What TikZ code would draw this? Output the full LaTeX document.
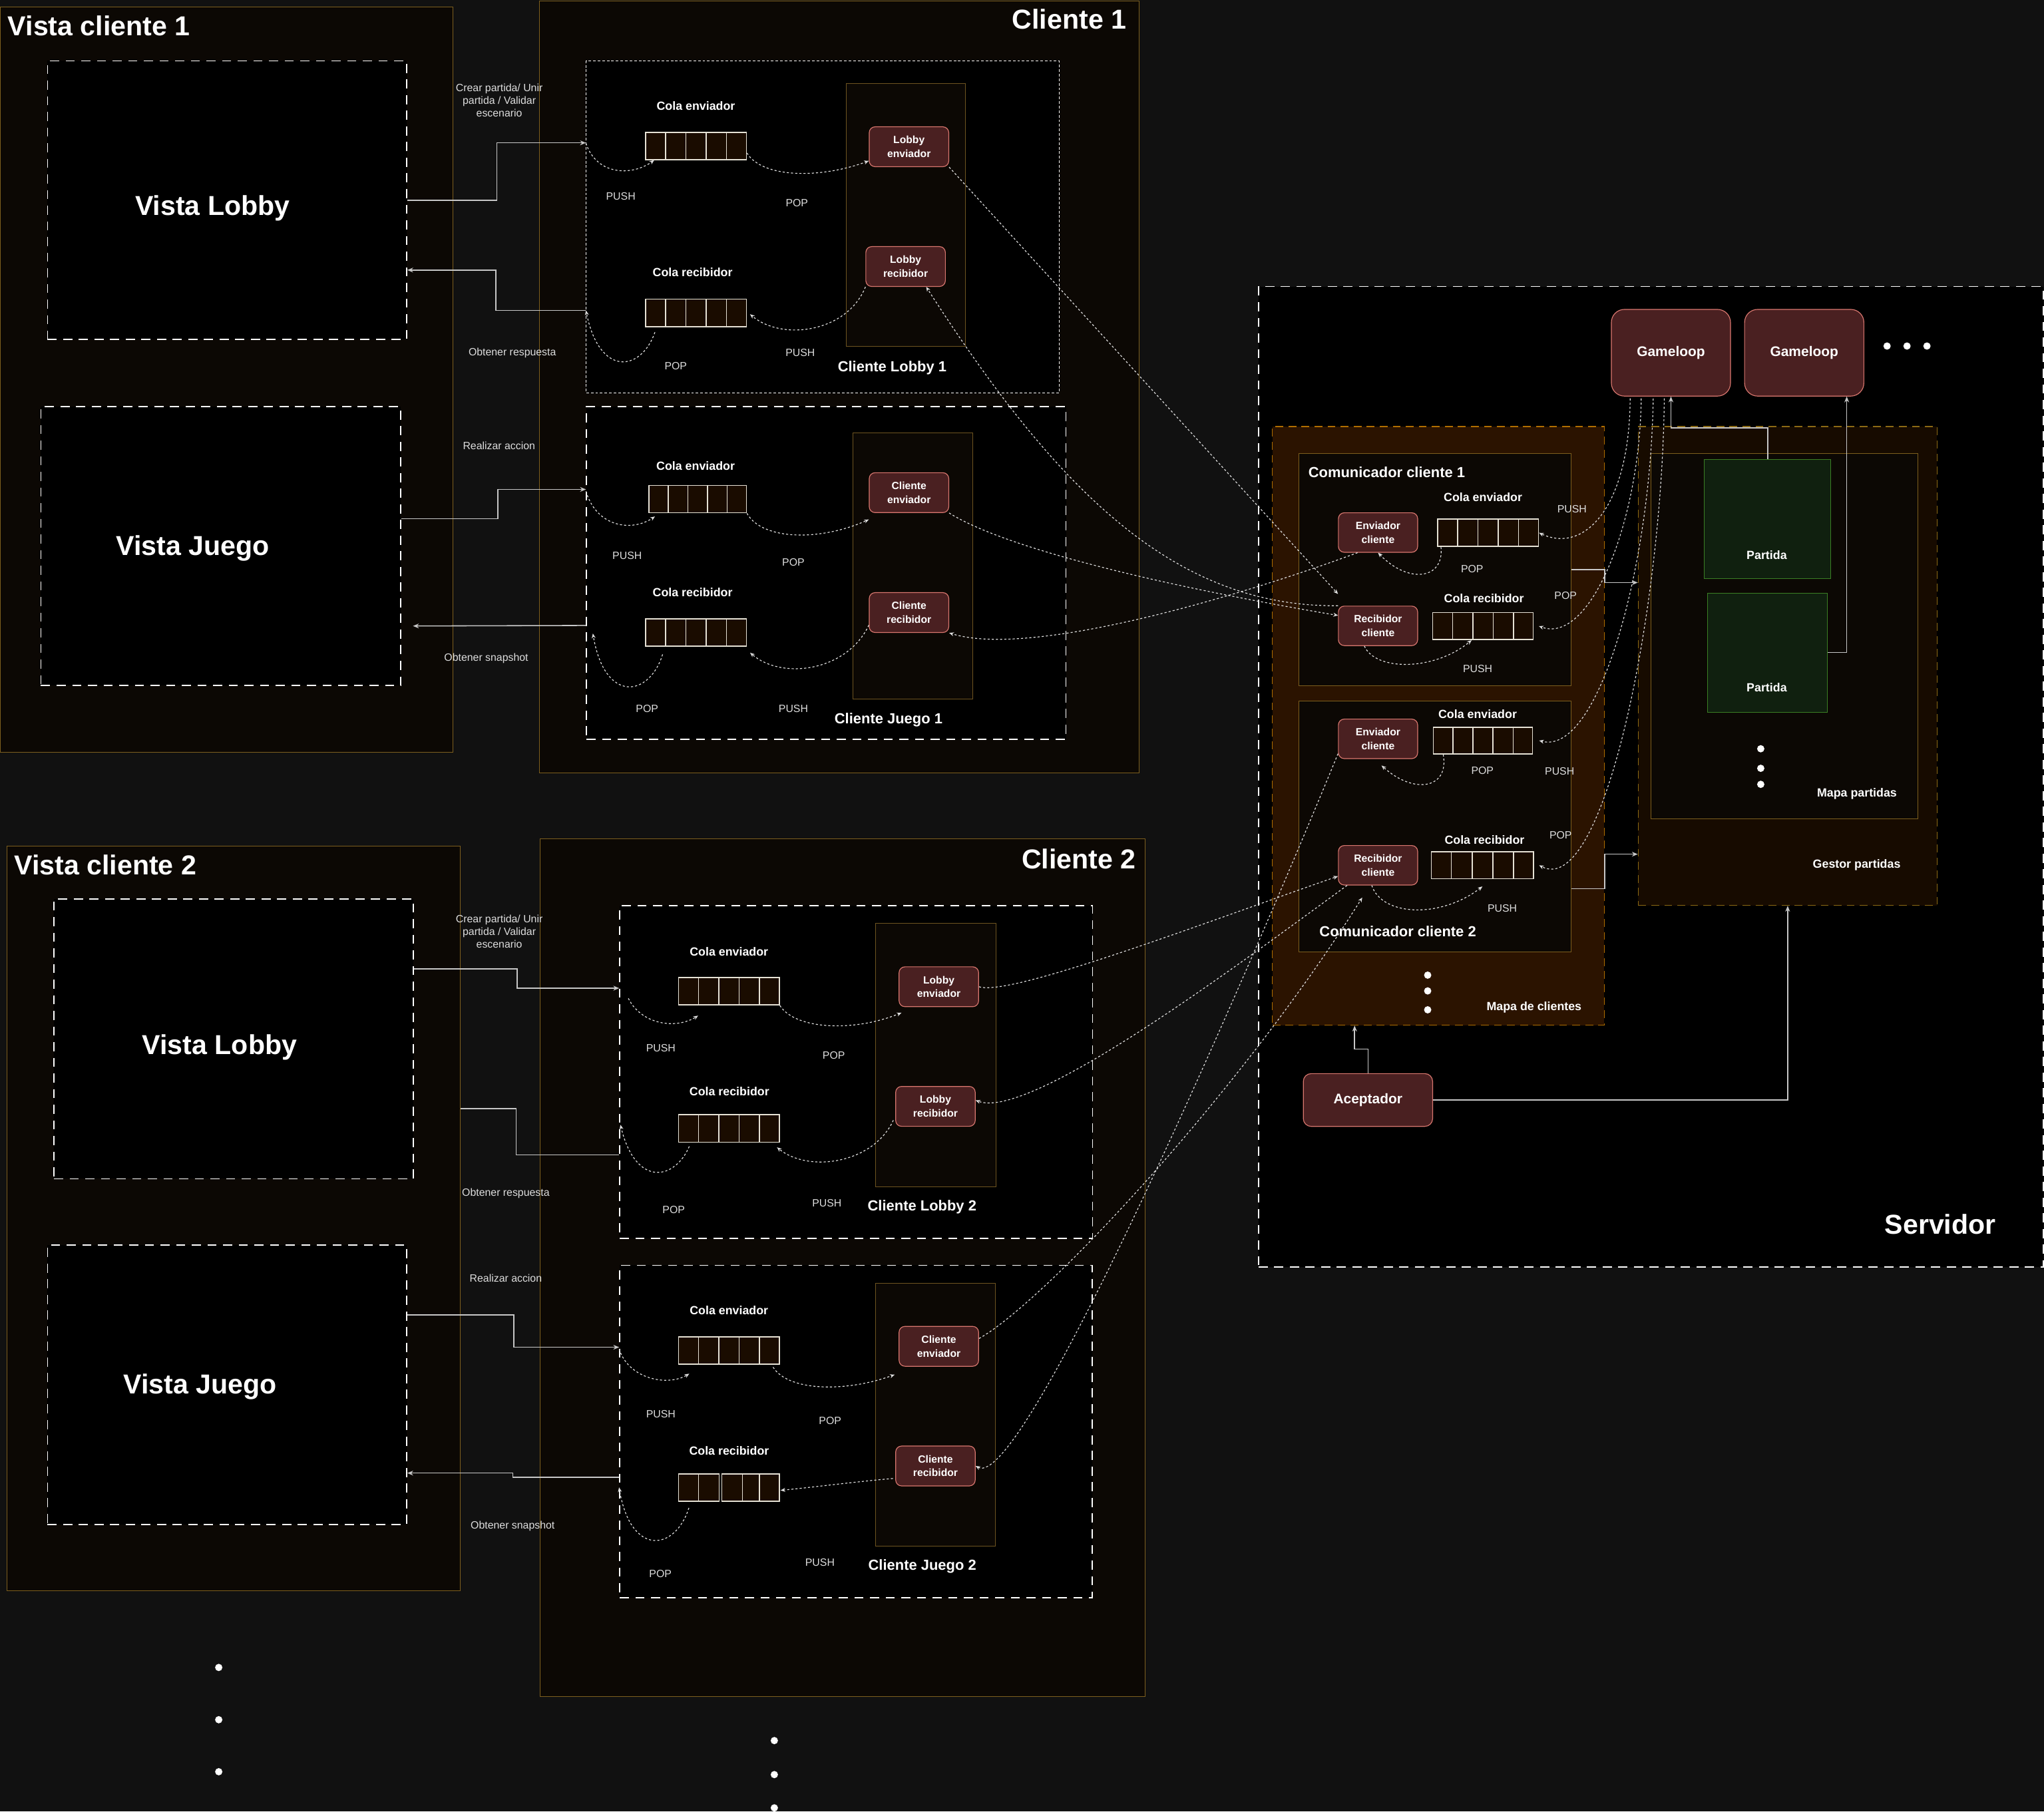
\documentclass[tikz,border=0pt]{standalone}
\usepackage{fontspec}
\setmainfont{Liberation Sans}
\usetikzlibrary{arrows.meta,calc}

\definecolor{fondo}{HTML}{111111}
\definecolor{marcoborde}{HTML}{7D5F1E}
\definecolor{marcofondo}{HTML}{0C0804}
\definecolor{columnaborde}{HTML}{6E5420}
\definecolor{hiloborde}{HTML}{D9776F}
\definecolor{hilofondo}{HTML}{4A2021}
\definecolor{celdafondo}{HTML}{1A0C00}
\definecolor{celdaborde}{HTML}{E6E2D6}
\definecolor{mapafondo}{HTML}{2B1300}
\definecolor{mapaborde}{HTML}{B06E00}
\definecolor{gestorfondo}{HTML}{170B00}
\definecolor{gestorborde}{HTML}{8C6A14}
\definecolor{partidafondo}{HTML}{10200F}
\definecolor{partidaborde}{HTML}{3B7F24}
\definecolor{linea}{HTML}{C8C8C8}
\definecolor{flujocolor}{HTML}{E0E0E0}
\definecolor{texto}{HTML}{DDDDDD}

\begin{document}
\begin{tikzpicture}[x=1pt, y=-1pt,
    tam/.style 2 args={minimum width=#1pt, minimum height=#2pt},
    marco/.style={draw=marcoborde, fill=marcofondo, line width=0.5pt, inner sep=0pt, anchor=north west},
    vista/.style={draw=white, fill=black, line width=0.8pt, dash pattern=on 7pt off 5pt, inner sep=0pt, anchor=north west},
    fino/.style={draw=white, fill=black, line width=0.5pt, dash pattern=on 2pt off 1.5pt, inner sep=0pt, anchor=north west},
    columna/.style={draw=columnaborde, fill=marcofondo, line width=0.5pt, inner sep=0pt, anchor=north west},
    mapa/.style={draw=mapaborde, fill=mapafondo, line width=0.6pt, dash pattern=on 6pt off 4pt, inner sep=0pt, anchor=north west},
    gestorcaja/.style={draw=gestorborde, fill=gestorfondo, line width=0.6pt, dash pattern=on 6pt off 4pt, inner sep=0pt, anchor=north west},
    partida/.style={draw=partidaborde, fill=partidafondo, line width=0.5pt, inner sep=0pt, anchor=north west},
    hilo/.style={draw=hiloborde, fill=hilofondo, line width=0.6pt, rounded corners=4.5pt, text=white, align=center, inner sep=0pt, minimum width=61pt, minimum height=30.6pt, font=\bfseries\fontsize{8}{10.5}\selectfont},
    bucle/.style={hilo, rounded corners=10pt, font=\bfseries\fontsize{10.7}{13}\selectfont},
    cola/.style={draw=celdaborde, fill=celdafondo, line width=0.8pt, inner sep=0pt, minimum height=21pt},
    celda/.style={draw=celdaborde, line width=0.8pt},
    titulo/.style={text=white, inner sep=0pt, font=\bfseries\fontsize{21}{25}\selectfont},
    subtitulo/.style={text=white, inner sep=0pt, font=\bfseries\fontsize{11.2}{13}\selectfont},
    rotulo/.style={text=white, inner sep=0pt, font=\bfseries\fontsize{9.1}{11}\selectfont},
    nota/.style={text=texto, inner sep=0pt, align=center, font=\fontsize{8.1}{9.7}\selectfont},
    punto/.style={circle, fill=white, inner sep=0pt, minimum size=5.6pt},
    conector/.style={draw=linea, line width=0.8pt, -{Stealth[length=4.5pt, width=3.6pt]}},
    flujo/.style={draw=flujocolor, line width=0.6pt, dash pattern=on 1.6pt off 1.6pt, -{Stealth[length=3.6pt, width=3pt]}},
  ]
  \fill[fondo] (0,0) rectangle (1568,1390);
  \useasboundingbox (0,0) rectangle (1568,1390);

  % vista cliente 1
  \node[marco, tam={347}{572}] (vistacli1) at (0,5) {};
  \node[vista, tam={275.6}{213.7}] (vistalobby1) at (36,46.3) {};
  \node[vista, tam={276}{214}] (vistajuego1) at (31,311.6) {};
  \node[titulo, anchor=base west] (tvistacli1) at (5.9,27.4) {Vista cliente 1};
  \node[titulo, anchor=base] (tvistalobby1) at (163,165.3) {Vista Lobby};
  \node[titulo, anchor=base] (tvistajuego1) at (148,426) {Vista Juego};

  % cliente 1
  \node[marco, tam={459.8}{592.1}] (cliente1) at (413.7,0.5) {};
  \node[fino, tam={362.6}{255}] (clilobby1) at (449.5,46.3) {};
  \node[columna, tam={91.7}{201.5}] (collobby1) at (648.8,64) {};
  \node[vista, tam={367.8}{255.2}] (clijuego1) at (449.5,311.6) {};
  \node[columna, tam={92}{204.3}] (coljuego1) at (653.8,332) {};
  \node[titulo, anchor=base east] (tcliente1) at (864.2,22.3) {Cliente 1};

  \node[hilo] (lobbyenv1) at (697.3,112.6) {Lobby\\enviador};
  \node[hilo] (lobbyrec1) at (694.7,204.5) {Lobby\\recibidor};
  \node[hilo] (clienv1) at (697.3,378) {Cliente\\enviador};
  \node[hilo] (clirec1) at (697.3,470) {Cliente\\recibidor};

  \node[cola, minimum width=77.4pt] (colaenvL1) at (533.9,112) {};
  \node[cola, minimum width=77.4pt] (colarecL1) at (533.9,240.1) {};
  \node[cola, minimum width=74.8pt] (colaenvJ1) at (535.2,383) {};
  \node[cola, minimum width=77.4pt] (colarecJ1) at (533.9,485.2) {};

  \node[rotulo] (tcolaenvL1) at (533.8,81.4) {Cola enviador};
  \node[rotulo] (tcolarecL1) at (531.3,209) {Cola recibidor};
  \node[nota] (pushL1a) at (476.2,150.6) {PUSH};
  \node[nota] (popL1a) at (611.3,155.9) {POP};
  \node[nota] (popL1b) at (518.4,280.6) {POP};
  \node[nota] (pushL1b) at (613.9,270.6) {PUSH};
  \node[subtitulo, anchor=base] (tclilobby1) at (684.4,284.9) {Cliente Lobby 1};
  \node[rotulo] (tcolaenvJ1) at (533.6,357.4) {Cola enviador};
  \node[rotulo] (tcolarecJ1) at (531.3,454.3) {Cola recibidor};
  \node[nota] (pushJ1a) at (481.1,426.1) {PUSH};
  \node[nota] (popJ1a) at (608.6,431.4) {POP};
  \node[nota] (popJ1b) at (496.4,543.8) {POP};
  \node[nota] (pushJ1b) at (608.6,543.8) {PUSH};
  \node[subtitulo, anchor=base] (tclijuego1) at (681.6,555) {Cliente Juego 1};

  \node[nota] (tcrear1) at (383,76.9) {Crear partida/ Unir\\partida / Validar\\escenario};
  \node[nota] (tresp1) at (393,270.8) {Obtener respuesta};
  \node[nota] (taccion1) at (382.8,341.9) {Realizar accion};
  \node[nota] (tsnap1) at (373,505) {Obtener snapshot};

  % vista cliente 2
  \node[marco, tam={347.3}{571.6}] (vistacli2) at (5.3,648.8) {};
  \node[vista, tam={275.8}{214.6}] (vistalobby2) at (41,689.4) {};
  \node[vista, tam={275.6}{214.5}] (vistajuego2) at (36,954.8) {};
  \node[titulo, anchor=base west] (tvistacli2) at (10.8,671.4) {Vista cliente 2};
  \node[titulo, anchor=base] (tvistalobby2) at (168.5,809) {Vista Lobby};
  \node[titulo, anchor=base] (tvistajuego2) at (153.4,1069.2) {Vista Juego};

  % cliente 2
  \node[marco, tam={464.4}{658}] (cliente2) at (414,643.5) {};
  \node[vista, tam={362.6}{255.3}] (clilobby2) at (475,694.6) {};
  \node[columna, tam={92.2}{202}] (collobby2) at (671.4,708.2) {};
  \node[vista, tam={362.5}{255}] (clijuego2) at (475,970.4) {};
  \node[columna, tam={92.1}{201.6}] (coljuego2) at (671.4,984.4) {};
  \node[titulo, anchor=base east] (tcliente2) at (871.6,666.3) {Cliente 2};

  \node[nota] (tcrear2) at (383,714.9) {Crear partida/ Unir\\partida / Validar\\escenario};
  \node[nota] (tresp2) at (388,915.7) {Obtener respuesta};
  \node[nota] (taccion2) at (388,980.6) {Realizar accion};
  \node[nota] (tsnap2) at (393.3,1170.8) {Obtener snapshot};

  \node[hilo] (lobbyenv2) at (720.2,757.1) {Lobby\\enviador};
  \node[hilo] (lobbyrec2) at (717.6,848.9) {Lobby\\recibidor};
  \node[hilo] (clienv2) at (720.2,1033) {Cliente\\enviador};
  \node[hilo] (clirec2) at (717.6,1124.8) {Cliente\\recibidor};

  \node[cola, minimum width=77.3pt] (colaenvL2) at (559.2,760.6) {};
  \node[cola, minimum width=77.3pt] (colarecL2) at (559.2,865.8) {};
  \node[cola, minimum width=77.3pt] (colaenvJ2) at (559.2,1036.2) {};
  \node[cola, minimum width=77.3pt] (colarecJ2) at (559.2,1141.3) {};

  \node[rotulo] (tcolaenvL2) at (559.2,730.1) {Cola enviador};
  \node[rotulo] (tcolarecL2) at (559.5,837.2) {Cola recibidor};
  \node[nota] (pushL2a) at (506.9,804.3) {PUSH};
  \node[nota] (popL2a) at (639.6,809.6) {POP};
  \node[nota] (popL2b) at (516.8,928.4) {POP};
  \node[nota] (pushL2b) at (634.3,923.2) {PUSH};
  \node[subtitulo, anchor=base] (tclilobby2) at (707.3,929.1) {Cliente Lobby 2};
  \node[rotulo] (tcolaenvJ2) at (559.2,1005.6) {Cola enviador};
  \node[rotulo] (tcolarecJ2) at (559.3,1113.1) {Cola recibidor};
  \node[nota] (pushJ2a) at (506.9,1085.1) {PUSH};
  \node[nota] (popJ2a) at (636.8,1090.3) {POP};
  \node[nota] (popJ2b) at (506.6,1207.6) {POP};
  \node[nota] (pushJ2b) at (629,1199) {PUSH};
  \node[subtitulo, anchor=base] (tclijuego2) at (707.5,1204.7) {Cliente Juego 2};

  % servidor
  \node[vista, tam={602}{752.1}] (servidor) at (965,219.5) {};
  \node[mapa, tam={254.5}{459.3}] (mapaclientes) at (975.8,327) {};
  \node[marco, tam={209}{178.5}] (comunicador1) at (996.1,347.5) {};
  \node[marco, tam={209}{192.9}] (comunicador2) at (996.1,537.4) {};
  \node[gestorcaja, tam={229.3}{367.4}] (gestorpartidas) at (1256.4,327) {};
  \node[marco, tam={204.5}{280.3}] (mapapartidas) at (1266.3,347.9) {};
  \node[partida, tam={96.8}{91.5}] (partida1) at (1307.3,352.4) {};
  \node[partida, tam={91.9}{91.5}] (partida2) at (1309.8,454.7) {};
  \node[bucle, tam={91.4}{66.5}] (gameloop1) at (1281.8,270.65) {Gameloop};
  \node[bucle, tam={91.5}{66.5}] (gameloop2) at (1384.05,270.65) {Gameloop};
  \node[bucle, rounded corners=6pt, tam={99.2}{40.5}] (aceptador) at (1049.4,844) {Aceptador};

  \node[hilo, tam={60.8}{30.3}] (envS1) at (1057.1,408.6) {Enviador\\cliente};
  \node[hilo, tam={60.8}{30.3}] (recS1) at (1057.1,480.2) {Recibidor\\cliente};
  \node[hilo, tam={60.8}{30.3}] (envS2) at (1057.1,566.9) {Enviador\\cliente};
  \node[hilo, tam={60.8}{30.3}] (recS2) at (1057.1,663.9) {Recibidor\\cliente};

  \node[cola, tam={77.4}{20.9}] (colaenvS1) at (1141.5,408.8) {};
  \node[cola, tam={77}{20.8}] (colarecS1) at (1137.6,480.4) {};
  \node[cola, tam={76.2}{20.5}] (colaenvS2) at (1137.6,568.2) {};
  \node[cola, tam={78.6}{20.5}] (colarecS2) at (1137.2,663.9) {};

  \node[subtitulo, anchor=base west] (tcom1) at (1003.5,366.1) {Comunicador cliente 1};
  \node[rotulo] (tcolaenvS1) at (1137.6,381.7) {Cola enviador};
  \node[nota] (pushS1a) at (1205.9,390.5) {PUSH};
  \node[nota] (popS1a) at (1129.3,436.5) {POP};
  \node[rotulo] (tcolarecS1) at (1138.4,459.2) {Cola recibidor};
  \node[nota] (popS1b) at (1201,457) {POP};
  \node[nota] (pushS1b) at (1133.5,513) {PUSH};
  \node[rotulo] (tcolaenvS2) at (1133.5,547.8) {Cola enviador};
  \node[nota] (popS2a) at (1137.2,591.1) {POP};
  \node[nota] (pushS2a) at (1196.4,591.8) {PUSH};
  \node[rotulo] (tcolarecS2) at (1138.8,644.5) {Cola recibidor};
  \node[nota] (popS2b) at (1197.2,640.6) {POP};
  \node[nota] (pushS2b) at (1152.4,696.9) {PUSH};
  \node[subtitulo, anchor=base west] (tcom2) at (1012,718.5) {Comunicador cliente 2};
  \node[rotulo] (tmapacli) at (1176.8,773) {Mapa de clientes};
  \node[rotulo] (tpartida1) at (1355.3,426) {Partida};
  \node[rotulo] (tpartida2) at (1355.3,527.3) {Partida};
  \node[rotulo] (tmapapar) at (1424.5,609) {Mapa partidas};
  \node[rotulo] (tgestor) at (1424.3,663.7) {Gestor partidas};
  \node[titulo, anchor=base] (tservidor) at (1488.4,946.8) {Servidor};

  % puntos suspensivos
  \foreach \y [count=\i] in {748.2,760.3,774.8} \node[punto] (pcli\i) at (1095.2,\y) {};
  \foreach \y [count=\i] in {574.5,589.5,601.8} \node[punto] (ppar\i) at (1350.7,\y) {};
  \foreach \x [count=\i] in {1447.6,1462.9,1478.2} \node[punto] (pgl\i) at (\x,265.5) {};
  \foreach \y [count=\i] in {1279.4,1319.5,1359.4} \node[punto] (pvis\i) at (167.8,\y) {};
  \foreach \y [count=\i] in {1335.5,1361.6,1387.1} \node[punto] (pclt\i) at (594,\y) {};

  % celdas de las colas
  \foreach \c in {colaenvL1,colarecL1,colaenvJ1,colarecJ1,colaenvL2,colarecL2,colaenvJ2,colaenvS1,colarecS1,colaenvS2,colarecS2}
    \foreach \f in {0.2,0.4,0.6,0.8}
      \draw[celda] ($(\c.north west)!\f!(\c.north east)$) -- ($(\c.south west)!\f!(\c.south east)$);
  \fill[black] ($(colarecJ2.north west)!0.403!(colarecJ2.north east)+(0,-1)$) rectangle ($(colarecJ2.south west)!0.43!(colarecJ2.south east)+(0,1)$);
  \foreach \f in {0.201,0.403,0.43,0.632,0.8}
    \draw[celda] ($(colarecJ2.north west)!\f!(colarecJ2.north east)$) -- ($(colarecJ2.south west)!\f!(colarecJ2.south east)$);

  % conectores
  \draw[conector] (vistalobby1.east) -- ++(68.8,0) |- ([yshift=-63.3pt]clilobby1.north west);
  \draw[conector] ([yshift=-191.9pt]clilobby1.north west) -- ++(-69.1,0) |- ([yshift=-160.9pt]vistalobby1.north east);
  \draw[conector] ([yshift=21pt]vistajuego1.east) -- ++(74,0) |- ([yshift=-63.9pt]clijuego1.north west);
  \draw[conector] ([yshift=-168.3pt]clijuego1.north west) -- ([xshift=9pt,yshift=-61.3pt]vistajuego1.east);
  \draw[conector] ([yshift=53.7pt]vistalobby2.east) -- ++(79.2,0) |- ([yshift=-63.6pt]clilobby2.north west);
  \draw[conector, -] ([yshift=-191.4pt]clilobby2.north west) -- ++(-79,0) |- ([yshift=-201.7pt]vistacli2.north east);
  \draw[conector] ([yshift=53.7pt]vistajuego2.east) -- ++(81.7,0) |- ([yshift=-63.3pt]clijuego2.north west);
  \draw[conector] ([yshift=-163.1pt]clijuego2.north west) -- ++(-81.7,0) |- ([yshift=-67.8pt]vistajuego2.east);
  \draw[conector] (partida1.north) -- ++(0,-24.2) -| (gameloop1.south);
  \draw[conector] (partida2.east) -| ([xshift=32.6pt]gameloop2.south);
  \draw[conector] (comunicador1.east) -- ++(25.5,0) |- ([yshift=64pt]gestorpartidas.west);
  \draw[conector] ([yshift=-47.7pt]comunicador2.east) -- ++(25.5,0) |- ([yshift=-144.4pt]gestorpartidas.west);
  \draw[conector] (aceptador.north) -- ++(0,-18.6) -| ([xshift=-64.2pt]mapaclientes.south);
  \draw[conector] (aceptador.east) -| (gestorpartidas.south);

  % push y pop en los clientes
  \draw[flujo] ([yshift=-63.7pt]clilobby1.north west) .. controls (458,135) and (485,135) .. ([xshift=7pt]colaenvL1.south west);
  \draw[flujo] ([yshift=-5.4pt]colaenvL1.east) .. controls (585,137) and (630,137) .. ([yshift=4.8pt]lobbyenv1.south west);
  \draw[flujo] (lobbyrec1.south west) .. controls (650,255) and (600,262) .. ([xshift=2.4pt,yshift=-1pt]colarecL1.east);
  \draw[flujo] ([xshift=7.6pt,yshift=-3.9pt]colarecL1.south west) .. controls (492,285) and (460,290) .. ([yshift=-191.9pt]clilobby1.north west);
  \draw[flujo] ([yshift=-65.4pt]clijuego1.north west) .. controls (458,405) and (485,408) .. ([xshift=5pt,yshift=-2.4pt]colaenvJ1.south west);
  \draw[flujo] (colaenvJ1.south east) .. controls (585,415) and (630,415) .. ([yshift=-5pt]clienv1.south west);
  \draw[flujo] ([yshift=6pt]clirec1.south west) .. controls (650,515) and (600,522) .. ([xshift=2.4pt,yshift=-4.7pt]colarecJ1.south east);
  \draw[flujo] ([xshift=13.5pt,yshift=-6pt]colarecJ1.south west) .. controls (498,535) and (464,540) .. ([xshift=5.3pt,yshift=-174.5pt]clijuego1.north west);
  \draw[flujo] ([xshift=7pt,yshift=-71.4pt]clilobby2.north west) .. controls (492,786) and (518,790) .. ([xshift=15.4pt,yshift=-7.8pt]colaenvL2.south west);
  \draw[flujo] (colaenvL2.south east) .. controls (610,790) and (655,792) .. ([xshift=2.2pt,yshift=-4.3pt]lobbyenv2.south west);
  \draw[flujo] ([xshift=-1.5pt,yshift=5pt]lobbyrec2.south west) .. controls (670,893) and (620,900) .. ([xshift=-2.2pt,yshift=-3.6pt]colarecL2.south east);
  \draw[flujo] ([xshift=8.6pt,yshift=-2.9pt]colarecL2.south west) .. controls (518,905) and (488,912) .. ([xshift=0.9pt,yshift=-168.4pt]clilobby2.north west);
  \draw[flujo] ([yshift=-64.6pt]clijuego2.north west) .. controls (482,1058) and (512,1064) .. ([xshift=8.6pt,yshift=-6.9pt]colaenvJ2.south west);
  \draw[flujo] ([xshift=-5.2pt,yshift=-1.9pt]colaenvJ2.south east) .. controls (605,1068) and (650,1068) .. ([xshift=-3.1pt,yshift=-6.1pt]clienv2.south west);
  \draw[flujo] ([xshift=-1.8pt,yshift=-9.6pt]clirec2.west) .. controls (655,1137) and (625,1141) .. ([xshift=0.5pt,yshift=-2.2pt]colarecJ2.east);
  \draw[flujo] ([xshift=8.3pt,yshift=-4.8pt]colarecJ2.south west) .. controls (518,1190) and (484,1195) .. ([xshift=-0.1pt,yshift=-170.8pt]clijuego2.north west);

  % push y pop en el servidor
  \draw[flujo] ([xshift=3pt]colaenvS1.south west) .. controls (1108,445) and (1080,448) .. (envS1.south);
  \draw[flujo] ([xshift=-10.5pt]recS1.south) .. controls (1055,515) and (1100,515) .. ([xshift=-8.7pt]colarecS1.south);
  \draw[flujo] ([xshift=8pt]colaenvS2.south west) .. controls (1112,605) and (1085,610) .. ([xshift=2.7pt,yshift=-5pt]envS2.south);
  \draw[flujo] ([xshift=-4.8pt]recS2.south) .. controls (1060,703) and (1105,705) .. ([yshift=-5.6pt]colarecS2.south);
  \draw[flujo] ([xshift=-31.3pt,yshift=-1.5pt]gameloop1.south) .. controls (1250,390) and (1215,425) .. (colaenvS1.east);
  \draw[flujo] ([xshift=-22.8pt,yshift=-1.5pt]gameloop1.south) .. controls (1258,400) and (1220,495) .. ([xshift=4pt]colarecS1.east);
  \draw[flujo] ([xshift=-13.6pt,yshift=-1.5pt]gameloop1.south) .. controls (1266,440) and (1225,580) .. ([xshift=4.6pt]colaenvS2.east);
  \draw[flujo] ([xshift=-5.1pt,yshift=-1.5pt]gameloop1.south) .. controls (1275,470) and (1230,690) .. ([xshift=3.8pt]colarecS2.east);

  % clientes con el servidor
  \draw[flujo] (lobbyenv1.south east) -- ([yshift=9pt]recS1.north west);
  \draw[flujo] (recS1.north west) .. controls (900,466) and (810,375) .. ([xshift=-15pt]lobbyrec1.south east);
  \draw[flujo] (clienv1.south east) .. controls (780,426) and (930,456) .. ([yshift=8pt]recS1.west);
  \draw[flujo] ([xshift=15pt]envS1.south west) .. controls (950,458) and (790,505) .. (clirec1.south east);
  \draw[flujo] (lobbyenv2.east) .. controls (775,765) and (925.9,707.3) .. ([yshift=-8.4pt]recS2.west);
  \draw[flujo] ([xshift=7pt]recS2.south west) .. controls (950,740) and (790,860) .. ([yshift=4.7pt]lobbyrec2.east);
  \draw[flujo] ([yshift=6pt]clienv2.east) .. controls (800,1000) and (950,840) .. ([xshift=18.6pt,yshift=-9.3pt]recS2.south west);
  \draw[flujo] ([yshift=-11.4pt]envS2.west) .. controls (960,740) and (785,1145) .. (clirec2.east);
\end{tikzpicture}
\end{document}
